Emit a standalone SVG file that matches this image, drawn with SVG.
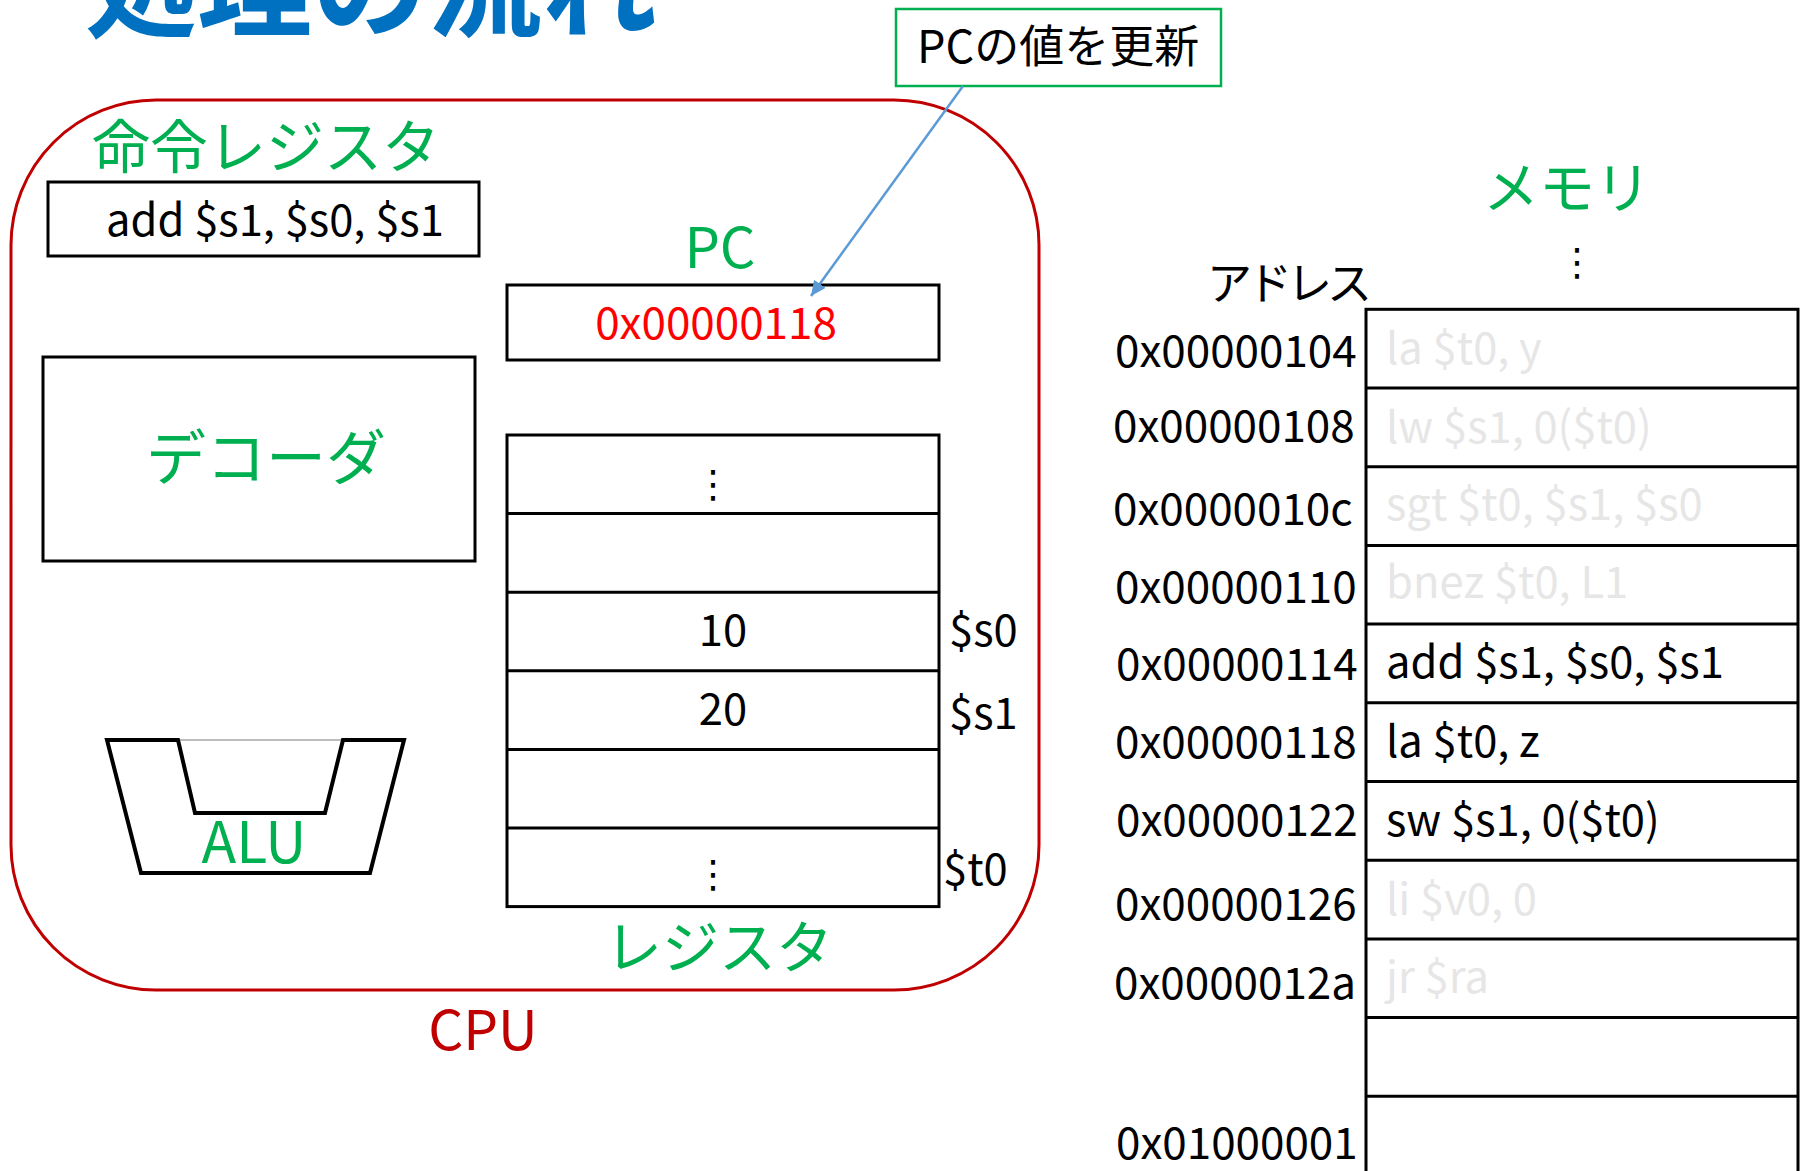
<svg xmlns="http://www.w3.org/2000/svg" width="1802" height="1171" viewBox="0 0 1802 1171">
<defs>
<style>
text { font-family: "Noto Sans CJK JP", "Liberation Sans", sans-serif; }
.g { fill: #00B050; }
.k { fill: #000000; }
.gray { fill: #E7E6E6; }
.t48 { font-size: 43.5px; }
.lbl { font-size: 60px; }
.mid { text-anchor: middle; }
.box { fill: #FFFFFF; stroke: #000000; stroke-width: 3; }
.ln { stroke: #000000; stroke-width: 3; }
.dots { font-family: "DejaVu Sans", sans-serif; font-size: 38px; fill: #000000; text-anchor: middle; }
</style>
<marker id="arr" markerUnits="userSpaceOnUse" markerWidth="16" markerHeight="14" refX="15" refY="7" orient="auto">
<path d="M0,0 L15,7 L0,14 z" fill="#5B9BD5"/>
</marker>
</defs>
<rect width="1802" height="1171" fill="#FFFFFF"/>

<g id="title">
<text x="82" y="28" font-size="115" font-weight="600" fill="#0070C0">処理の流れ</text>
</g>

<g id="cpu">
<rect x="11" y="100" width="1028" height="890" rx="145" ry="145" fill="none" stroke="#C00000" stroke-width="3"/>
<text x="483" y="1050" font-size="55" fill="#C00000" class="mid">CPU</text>
</g>

<g id="instruction-register">
<text x="92" y="168" font-size="58" class="g">命令レジスタ</text>
<rect x="48" y="182" width="431" height="74" class="box"/>
<text x="106" y="236" class="t48 k">add $s1, $s0, $s1</text>
</g>

<g id="decoder">
<rect x="43" y="357" width="432" height="204" class="box"/>
<text x="266" y="480" class="lbl g mid">デコーダ</text>
</g>

<g id="alu">
<line x1="178" y1="740" x2="343" y2="740" stroke="#A6A6A6" stroke-width="1.5"/>
<path d="M178,740 L107,740 L141,873 L370,873 L404,740 L343,740 L325,813 L195,813 Z" fill="none" stroke="#000000" stroke-width="4" stroke-linejoin="miter"/>
<text x="254" y="863" font-size="57" class="g mid">ALU</text>
</g>

<g id="pc">
<text x="720" y="268" font-size="56" class="g mid">PC</text>
<rect x="507" y="285" width="432" height="75" class="box"/>
<text x="716" y="339" font-size="44" class="mid" fill="#FF0000">0x00000118</text>
</g>

<g id="registers">
<rect x="507" y="435" width="432" height="471.6" class="box"/>
<line x1="507" y1="513.6" x2="939" y2="513.6" class="ln"/>
<line x1="507" y1="592.2" x2="939" y2="592.2" class="ln"/>
<line x1="507" y1="670.8" x2="939" y2="670.8" class="ln"/>
<line x1="507" y1="749.4" x2="939" y2="749.4" class="ln"/>
<line x1="507" y1="828" x2="939" y2="828" class="ln"/>
<text x="713" y="497" class="dots">⋮</text>
<text x="723" y="646" class="t48 k mid">10</text>
<text x="723" y="725" class="t48 k mid">20</text>
<text x="713" y="887" class="dots">⋮</text>
<text x="949" y="646" class="t48 k">$s0</text>
<text x="949" y="729" class="t48 k">$s1</text>
<text x="943" y="885" class="t48 k">$t0</text>
<text x="719" y="968" font-size="57" class="g mid">レジスタ</text>
</g>

<g id="pc-update-note">
<rect x="896" y="9" width="325" height="77" fill="#FFFFFF" stroke="#00B050" stroke-width="2.5"/>
<text x="917" y="63" font-size="45" class="k">PCの値を更新</text>
</g>

<g id="memory">
<text x="1567" y="208" font-size="56" class="g mid">メモリ</text>
<text x="1577" y="275" class="dots">⋮</text>
<text x="1207" y="300" font-size="45" letter-spacing="-5" class="k">アドレス</text>
<rect x="1366" y="309.3" width="432" height="900" class="box"/>
<line x1="1366" y1="388" x2="1798" y2="388" class="ln"/>
<line x1="1366" y1="466.7" x2="1798" y2="466.7" class="ln"/>
<line x1="1366" y1="545.4" x2="1798" y2="545.4" class="ln"/>
<line x1="1366" y1="624.1" x2="1798" y2="624.1" class="ln"/>
<line x1="1366" y1="702.8" x2="1798" y2="702.8" class="ln"/>
<line x1="1366" y1="781.5" x2="1798" y2="781.5" class="ln"/>
<line x1="1366" y1="860.2" x2="1798" y2="860.2" class="ln"/>
<line x1="1366" y1="938.9" x2="1798" y2="938.9" class="ln"/>
<line x1="1366" y1="1017.6" x2="1798" y2="1017.6" class="ln"/>
<line x1="1366" y1="1096.3" x2="1798" y2="1096.3" class="ln"/>
<text x="1386" y="364" class="t48 gray">la $t0, y</text>
<text x="1386" y="443" class="t48 gray">lw $s1, 0($t0)</text>
<text x="1386" y="520" class="t48 gray">sgt $t0, $s1, $s0</text>
<text x="1386" y="598" class="t48 gray">bnez $t0, L1</text>
<text x="1386" y="678" class="t48 k">add $s1, $s0, $s1</text>
<text x="1386" y="757" class="t48 k">la $t0, z</text>
<text x="1386" y="836" class="t48 k">sw $s1, 0($t0)</text>
<text x="1386" y="915" class="t48 gray">li $v0, 0</text>
<text x="1386" y="993" class="t48 gray">jr $ra</text>
<text x="1115" y="367" font-size="44" class="k">0x00000104</text>
<text x="1113" y="442" font-size="44" class="k">0x00000108</text>
<text x="1113" y="525" font-size="44" class="k">0x0000010c</text>
<text x="1115" y="603" font-size="44" class="k">0x00000110</text>
<text x="1116" y="680" font-size="44" class="k">0x00000114</text>
<text x="1115" y="758" font-size="44" class="k">0x00000118</text>
<text x="1116" y="836" font-size="44" class="k">0x00000122</text>
<text x="1115" y="920" font-size="44" class="k">0x00000126</text>
<text x="1114" y="999" font-size="44" class="k">0x0000012a</text>
<text x="1116" y="1159" font-size="44" class="k">0x01000001</text>
</g>

<g id="connectors">
<line x1="963" y1="86" x2="811" y2="296" stroke="#5B9BD5" stroke-width="2.5" marker-end="url(#arr)"/>
</g>
</svg>
